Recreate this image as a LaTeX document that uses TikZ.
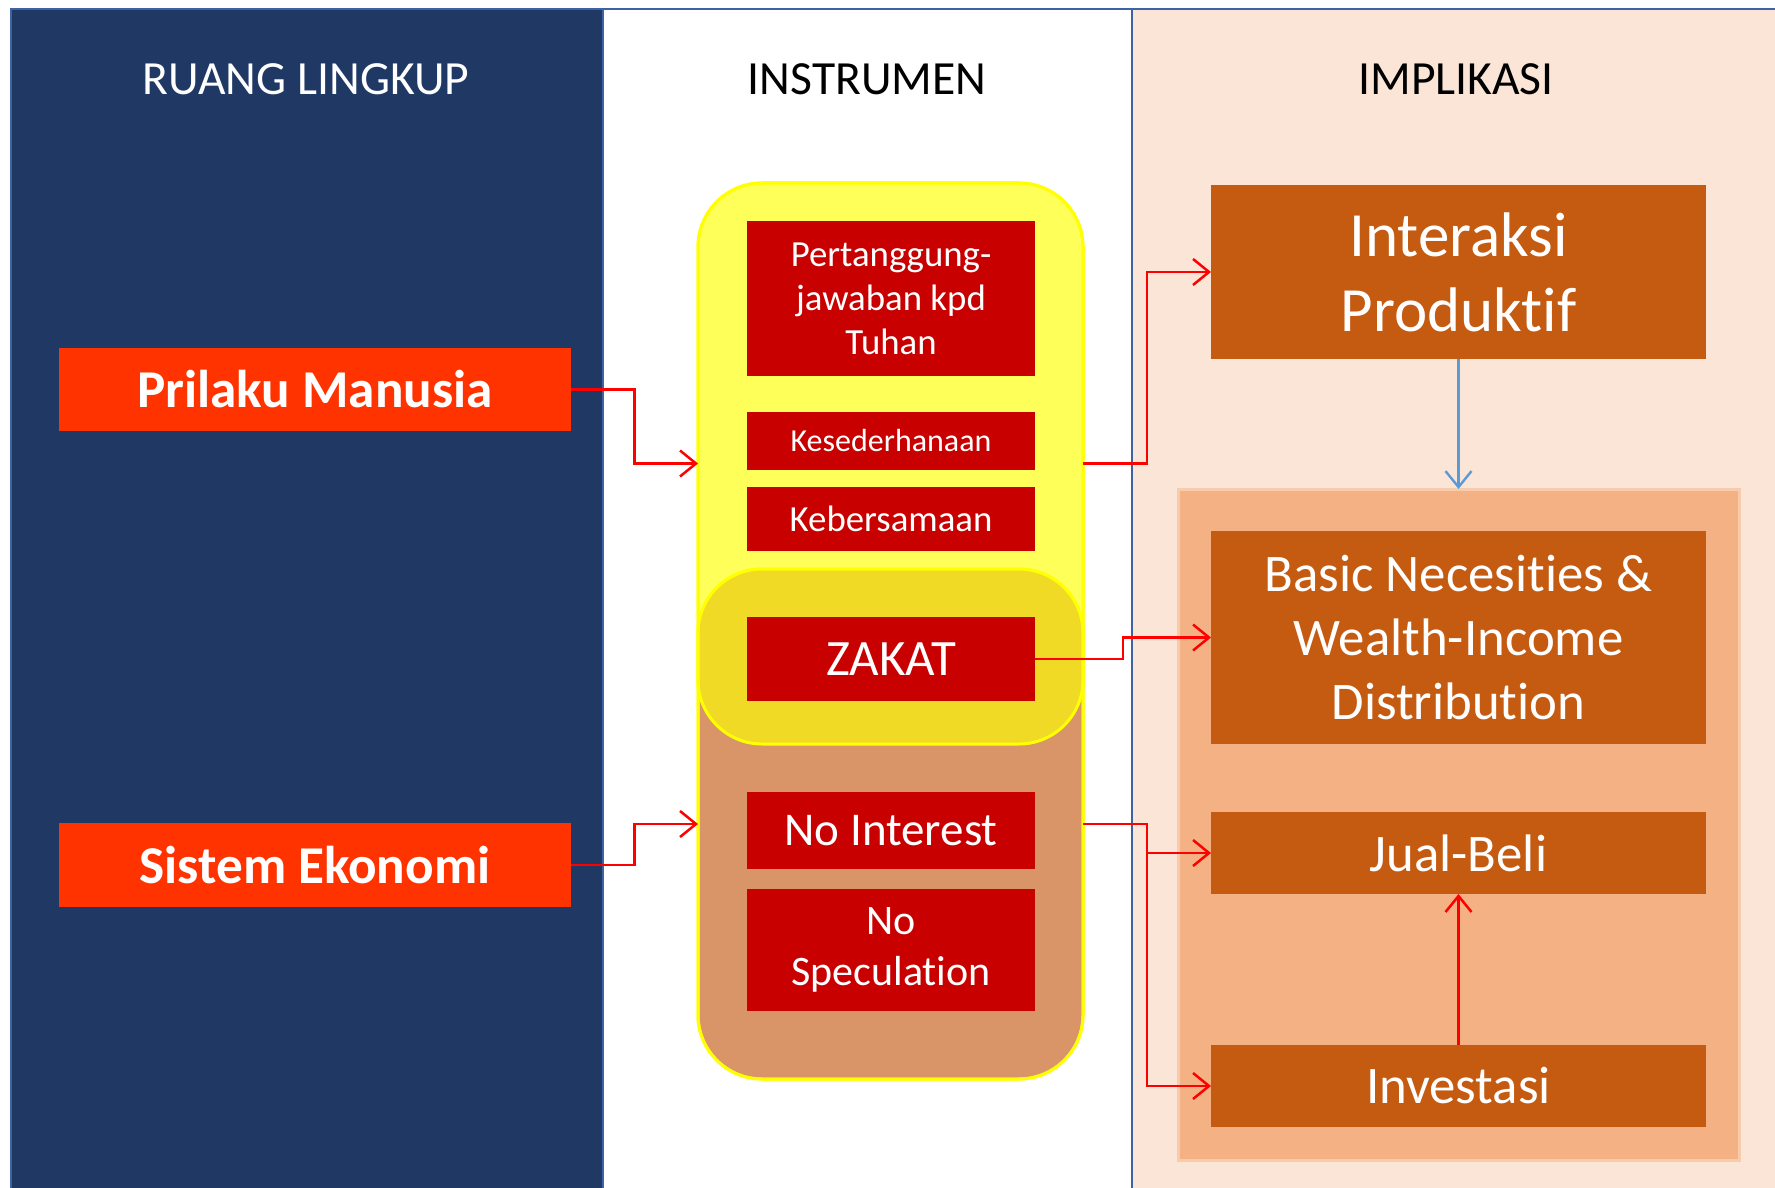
\documentclass[tikz,border=0pt]{standalone}
\usepackage{fontspec}
\setmainfont{Carlito}[Ligatures=NoCommon]
\usetikzlibrary{arrows.meta,calc}
\newcommand{\nolig}{\kern0pt{}}
\definecolor{navy}{HTML}{203864}
\definecolor{colline}{HTML}{3F62A5}
\definecolor{peach}{HTML}{FBE5D6}
\definecolor{boxred}{HTML}{C80000}
\definecolor{flame}{HTML}{FF3300}
\definecolor{boxorange}{HTML}{C55A11}
\definecolor{salmon}{HTML}{F4B183}
\definecolor{salmonline}{HTML}{F8CBAD}
\definecolor{lyellow}{HTML}{FFFF59}
\definecolor{tanc}{HTML}{D99568}
\definecolor{ozakat}{HTML}{F0DA26}
\definecolor{pureyellow}{HTML}{FFFF00}
\definecolor{arrblue}{HTML}{5B9BD5}
\definecolor{arrred}{HTML}{FF0000}
\begin{document}
\begin{tikzpicture}[x=0.5pt,y=-0.5pt,
  col/.style={draw=colline, line width=1pt},
  head/.style={font=\fontsize{23.8}{28}\selectfont},
  rbox/.style={fill=boxred, text=white, inner sep=0pt, outer sep=0pt, minimum width=144pt, align=center},
  obox/.style={fill=boxorange, text=white, inner sep=0pt, outer sep=0pt, minimum width=247.5pt, align=center, font=\fontsize{26.4}{32}\selectfont},
  lbox/.style={fill=flame, text=white, inner sep=0pt, outer sep=0pt, minimum width=256pt, font=\bfseries\fontsize{26.6}{31}\selectfont},
  blob/.style={draw=pureyellow, line width=1.5pt, rounded corners=32pt, inner sep=0pt, outer sep=0pt, minimum width=192.5pt},
  arr/.style={draw=arrred, line width=1.25pt, -{Straight Barb[length=8pt,width=13pt]}},
  blarr/.style={draw=arrblue, line width=1.2pt, -{Straight Barb[length=8pt,width=13pt]}}
]
\useasboundingbox (0,0) rectangle (1775,1187);
\fill[white] (0,0) rectangle (1775,1187);
% columns
\filldraw[fill=navy, col] (11,9) rectangle (603,1200);
\filldraw[fill=white, col] (603,9) rectangle (1132,1200);
\filldraw[fill=peach, col] (1132,9) rectangle (1790,1200);
% headings
\node[head, text=white] (h1) at (306,79) {RUANG LINGKUP};
\node[head, text=black] (h2) at (867,79) {INSTRUMEN};
\node[head, text=black] (h3) at (1456,79) {IMPLIKASI};
% left boxes
\node[lbox, minimum height=41.5pt] (prilaku) at (315,389.5) {Prilaku Manusia};
\node[lbox, minimum height=42pt] (sistem) at (315,865) {Sistem Ekonomi};
% salmon group
\node[fill=salmon, draw=salmonline, line width=1.5pt, inner sep=0pt, outer sep=0pt, minimum width=280.5pt, minimum height=335.5pt] (grp) at (1458.5,824.5) {};
% yellow and tan shapes
\node[blob, fill=lyellow, minimum height=280.5pt] (yel) at (890.5,463.5) {};
\node[blob, fill=tanc, minimum height=255pt] (tan) at (890.5,824) {};
\begin{scope}
  \clip[rounded corners=32pt] (tan.south west) rectangle (tan.north east);
  \fill[ozakat, rounded corners=32pt] (yel.south west) rectangle (yel.north east);
\end{scope}
\draw[pureyellow, line width=1.5pt, rounded corners=32pt] (yel.south west) rectangle (yel.north east);
\draw[pureyellow, line width=1.5pt, rounded corners=32pt] (tan.south west) rectangle (tan.north east);
% red boxes
\node[rbox, minimum height=77.5pt, font=\fontsize{18.4}{22}\selectfont] (pert) at (891,298.5) {Pertanggung-\\jawaban kpd\\Tuhan};
\node[rbox, minimum height=29pt, font=\fontsize{16}{19}\selectfont] (kes) at (891,441) {Kesederhanaan};
\node[rbox, minimum height=32pt, font=\fontsize{18.4}{22}\selectfont] (keb) at (891,519) {Kebersamaan};
\node[rbox, minimum height=42pt, font=\fontsize{25.5}{30}\selectfont] (zakat) at (891,659) {ZAKAT};
\node[rbox, minimum height=38.5pt, font=\fontsize{23.5}{28}\selectfont] (noint) at (891,830.5) {No Interest};
\node[rbox, minimum height=61pt, font=\fontsize{21}{25.5}\selectfont] (nospec) at (891,950) {No\\Speculat\nolig ion};
% orange boxes
\node[obox, minimum height=87pt, font=\fontsize{31.5}{37.5}\selectfont] (inter) at (1458.5,272) {Interaksi\\Produkt\nolig if};
\node[obox, minimum height=106.5pt] (basic) at (1458.5,637.5) {Basic Necesit\nolig ies \&\\Wealth-Income\\Distribut\nolig ion};
\node[obox, minimum height=41pt] (jual) at (1458.5,853) {Jual-Beli};
\node[obox, minimum height=41pt] (inv) at (1458.5,1086) {Investasi};
% connectors
\draw[arr] (prilaku.east) -- ++(63.5,0) |- (yel.west);
\draw[arr] (sistem.east) -- ++(63.5,0) |- (tan.west);
\draw[arr] (yel.east) -- ++(64,0) |- (inter.west);
\draw[arr] (zakat.east) -- ++(88,0) |- (basic.west);
\draw[arr] (tan.east) -- ++(64,0) coordinate (split) |- (jual.west);
\draw[arr] (split) |- (inv.west);
\draw[blarr] (inter.south) -- (grp.north);
\draw[arr] (inv.north) -- (jual.south);
\end{tikzpicture}
\end{document}
